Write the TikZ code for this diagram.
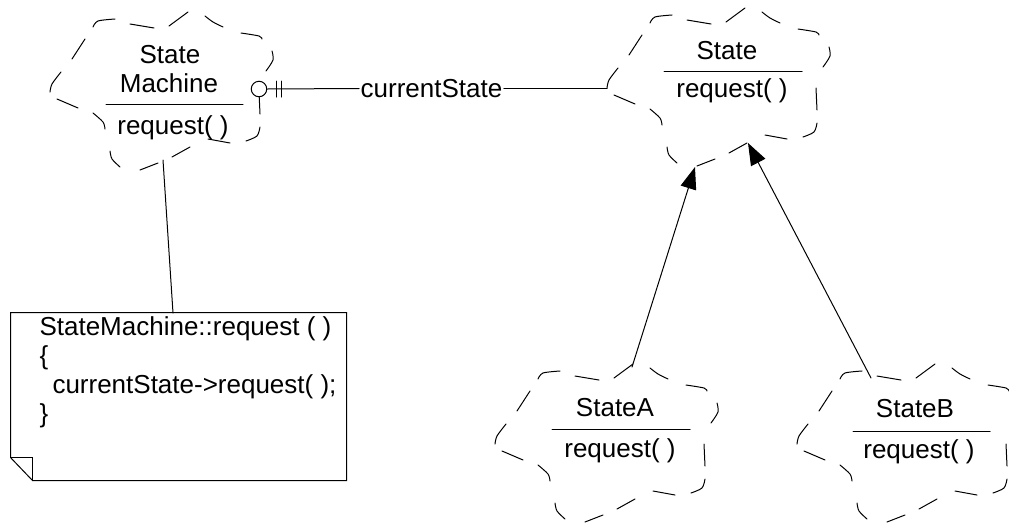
\documentclass[tikz,border=0pt]{standalone}
\usepackage{fontspec}
\setmainfont{Liberation Sans}
\usetikzlibrary{arrows.meta,calc}
\tikzset{
  classcloud/.pic={
    \draw plot[smooth] coordinates {(650,23) (655,17) (672,15)};
    \draw (687,20) -- (711,24);
    \draw (726,22) -- (745,8);
    \draw plot[smooth] coordinates {(762,12) (770,18) (780,23)};
    \draw plot[smooth] coordinates {(798,29) (816,32) (819,35)};
    \draw plot[smooth] coordinates {(829,47) (830,56) (823,67)};
    \draw (816,88) -- (817,110);
    \draw plot[smooth] coordinates {(817,123) (814,132) (803,137)};
    \draw (787,139) -- (765,135);
    \draw (747,143) -- (729,153);
    \draw (715,159) -- (697,166);
    \draw plot[smooth] coordinates {(677,163) (669,155) (667,147)};
    \draw plot[smooth] coordinates {(662,125) (660,118) (650,109)};
    \draw (635,104) -- (614,95);
    \draw plot[smooth] coordinates {(607,88) (609,80) (618,68)};
    \draw (629,55) -- (642,35);
  },
  lbl/.style={inner sep=0pt,anchor=base,font=\fontsize{26}{29}\selectfont},
  notetext/.style={inner sep=0pt,anchor=base west,font=\fontsize{26}{29}\selectfont},
  inh/.style={-{Triangle[length=22pt,width=16pt]}},
}
\begin{document}
\begin{tikzpicture}[x=1pt,y=-1pt,line width=1pt,line cap=round]
\useasboundingbox (0,0) rectangle (1009,523);

% class clouds
\pic at (0,0) {classcloud};
\pic at (-557,4) {classcloud};
\pic at (-112,356) {classcloud};
\pic at (190,356) {classcloud};

% State
\node[lbl] (stName) at (727,59) {State};
\draw (664,71) -- (802,71);
\node[lbl] (stOp) at (732,97) {request( )};

% StateMachine
\node[lbl] (smName1) at (170,63) {State};
\node[lbl] (smName2) at (169,92) {Machine};
\draw (106,104) -- (243,104);
\node[lbl] (smOp) at (173,134) {request( )};

% StateA
\node[lbl] (aName) at (615,416) {StateA};
\draw (552,429) -- (690,429);
\node[lbl] (aOp) at (620,457) {request( )};

% StateB
\node[lbl] (bName) at (915,417) {StateB};
\draw (853,431) -- (990,431);
\node[lbl] (bOp) at (919,458) {request( )};

% association currentState
\node[circle,draw,fill=white,minimum size=15.5pt,inner sep=0pt] (ring) at (259,89) {};
\coordinate (stEnd) at (607,88.5);
\node[inner xsep=1pt,inner ysep=0pt,fill=white,anchor=center,font=\fontsize{26}{29}\selectfont] (role) at (431.5,88.5) {currentState};
\draw (ring.east) -- (role.west);
\draw (role.east) -- (stEnd);
\draw (276,81) -- (276,97);
\draw (281,81) -- (281,97);

% note
\node[minimum width=335pt,minimum height=167pt,inner sep=0pt] (note) at (178.5,396.5) {};
\draw (note.north west) -- (note.north east) -- (note.south east)
  -- ($(note.south west)+(22,0)$) -- ($(note.south west)+(0,-23)$) -- cycle;
\draw ($(note.south west)+(0,-23)$) -- ($(note.south west)+(22,-23)$) -- ($(note.south west)+(22,0)$);
\node[notetext] (n1) at (39,335) {StateMachine::request ( )};
\node[notetext] (n2) at (39,364) {\{};
\node[notetext] (n3) at (52,393) {currentState->request( );};
\node[notetext] (n4) at (39,422) {\}};
\coordinate (smBottom) at (163,160);
\coordinate (noteTop) at (173,313);
\draw (smBottom) -- (noteTop);

% generalizations
\coordinate (aTop) at (632,367);
\coordinate (tipA) at (695,167);
\coordinate (bTop) at (871,378);
\coordinate (tipB) at (748,143);
\draw[inh] (aTop) -- (tipA);
\draw[inh] (bTop) -- (tipB);
\end{tikzpicture}
\end{document}
